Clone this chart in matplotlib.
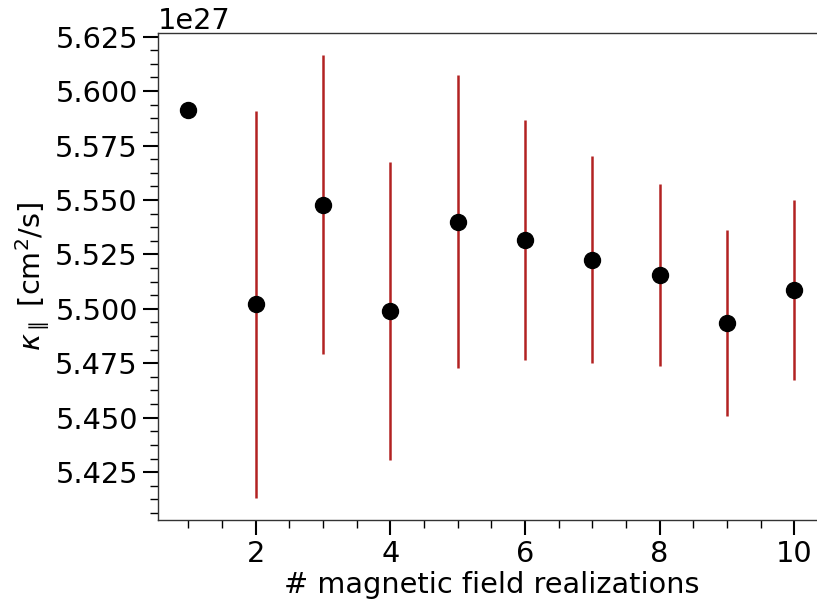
import numpy as np
import matplotlib
matplotlib.use('Agg')
import matplotlib.pyplot as plt
from matplotlib.ticker import AutoMinorLocator, MultipleLocator

# number of magnetic field realizations
n_real = [1, 2, 3, 4, 5, 6, 7, 8, 9, 10]
# kappa_parallel in units of 1e27 cm^2/s
kappa = [5.5912, 5.5021, 5.5478, 5.4990, 5.5401, 5.5316, 5.5226, 5.5157, 5.4935, 5.5087]
kappa_err = [0.0, 0.0889, 0.0687, 0.0685, 0.0671, 0.0552, 0.0475, 0.0418, 0.0427, 0.0412]

scale = 1e27
y = np.array(kappa) * scale
yerr = np.array(kappa_err) * scale

fig = plt.figure(figsize=(8.17, 6.01), dpi=100)
ax = fig.add_axes([0.1934, 0.1348, 0.8159, 0.8103])

ax.errorbar(n_real, y, yerr=yerr, fmt='o', color='black', ecolor='firebrick',
            elinewidth=1.8, markersize=11.5, capsize=0)

ax.set_xlim(0.55, 10.45)
ax.xaxis.set_major_locator(MultipleLocator(2))
ax.xaxis.set_minor_locator(AutoMinorLocator(4))
ax.yaxis.set_major_locator(MultipleLocator(0.025 * scale))
ax.yaxis.set_minor_locator(AutoMinorLocator(4))

fs = 20.7
ax.tick_params(which='major', length=11, width=1.5, labelsize=fs)
ax.tick_params(which='minor', length=6, width=1.0)
ax.yaxis.get_offset_text().set_fontsize(fs)
for s in ax.spines.values():
    s.set_linewidth(1.0)
    s.set_color('#333333')

ax.set_xlabel("# magnetic field realizations", fontsize=fs, labelpad=2)
ax.set_ylabel(r"$\kappa_\parallel$ [cm$^2$/s]", fontsize=fs, labelpad=2)

fig.savefig("out.png", dpi=100)
